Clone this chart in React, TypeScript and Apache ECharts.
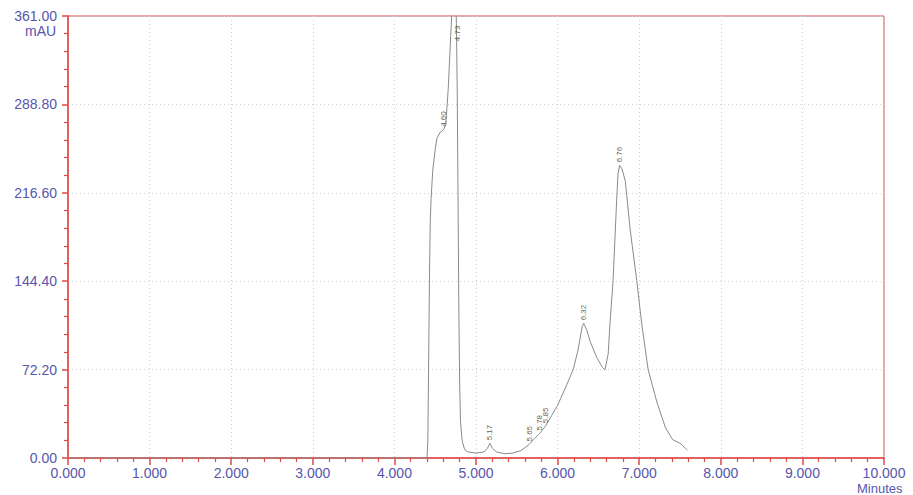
import React, { useEffect, useRef } from "react";
import * as echarts from "echarts";

// Chromatogram trace: [time (min), absorbance (mAU)]
const traceTimes = [0, 4.4, 4.41, 4.42, 4.43, 4.44, 4.45, 4.47, 4.5, 4.52, 4.56, 4.6, 4.63, 4.66, 4.69, 4.71, 4.73, 4.75, 4.76, 4.77, 4.78, 4.79, 4.8, 4.81, 4.83, 4.86, 4.9, 5.0, 5.1, 5.14, 5.17, 5.2, 5.25, 5.35, 5.45, 5.55, 5.65, 5.72, 5.78, 5.85, 5.93, 6.0, 6.1, 6.19, 6.25, 6.3, 6.32, 6.36, 6.4, 6.48, 6.55, 6.58, 6.62, 6.64, 6.68, 6.72, 6.74, 6.76, 6.79, 6.83, 6.89, 6.97, 7.03, 7.11, 7.22, 7.32, 7.41, 7.5, 7.55, 7.59];
const traceValues = [0, 0, 15, 80, 150, 195, 212, 235, 252, 261, 266, 268, 272, 302, 345, 372, 385, 378, 355, 300, 210, 120, 60, 30, 14, 7, 5, 4, 5, 8, 12, 8, 5, 3.5, 4, 6, 11, 16, 20, 26, 35, 43, 58, 72, 88, 107, 110, 104, 95, 82, 74, 72, 85, 108, 145, 205, 232, 239, 236, 226, 186, 145, 110, 72, 45, 25, 15, 12, 9, 6.5];

// Peak labels (retention time) and heights
const peakTimes = [4.6, 4.73, 5.17, 5.65, 5.78, 5.85, 6.32, 6.76];
const peakHeights = [268, 385, 12, 11, 20, 26, 110, 239];

const xTicks = ["0.000", "1.000", "2.000", "3.000", "4.000", "5.000", "6.000", "7.000", "8.000", "9.000", "10.000"];
const yTicks = ["0.00", "72.20", "144.40", "216.60", "288.80", "361.00"];

const Y_MAX = 361;

export default function App() {
  const ref = useRef<HTMLDivElement>(null);
  useEffect(() => {
    if (!ref.current) return;
    const chart = echarts.init(ref.current, undefined, { renderer: "svg" });
    const red = "#e04848";
    const blue = "#5656ac";
    const font = "Liberation Sans, Arial, sans-serif";
    const trace = traceTimes.map((t, i) => [t, traceValues[i]]);
    const labels = peakTimes.map((t, i) => ({
      value: [t + (peakHeights[i] > Y_MAX ? 0.04 : 0), Math.min(peakHeights[i], 338)],
      label: {
        formatter: t.toFixed(2),
      },
    }));
    chart.setOption({
      animation: false,
      grid: {
        left: 68,
        right: 29,
        top: 16,
        bottom: 37,
        show: true,
        borderColor: red,
        borderWidth: 1,
      },
      xAxis: {
        type: "value",
        min: 0,
        max: 10,
        interval: 1,
        axisLine: { lineStyle: { color: red, width: 1.5 } },
        axisTick: { length: 7, lineStyle: { color: red, width: 1.5 } },
        minorTick: { show: true, splitNumber: 5, length: 4, lineStyle: { color: red, width: 1.2 } },
        axisLabel: {
          color: blue,
          fontSize: 14,
          fontFamily: font,
          margin: 8,
          formatter: (v: number) => xTicks[Math.round(v)] ?? "",
        },
        splitLine: { show: true, lineStyle: { color: "#cfcfcf", type: [1, 3] } },
      },
      yAxis: {
        type: "value",
        min: 0,
        max: Y_MAX,
        interval: 72.2,
        axisLine: { show: true, lineStyle: { color: red, width: 1.5 } },
        axisTick: { show: true, length: 6, lineStyle: { color: red, width: 1.5 } },
        minorTick: { show: true, splitNumber: 5, length: 4, lineStyle: { color: red, width: 1.2 } },
        axisLabel: {
          color: blue,
          fontSize: 14,
          fontFamily: font,
          margin: 11,
          formatter: (v: number) => yTicks[Math.round(v / 72.2)] ?? "",
        },
        splitLine: { show: true, lineStyle: { color: "#cfcfcf", type: [1, 3] } },
      },
      graphic: [
        {
          type: "text",
          left: 25,
          top: 24,
          style: { text: "mAU", fill: blue, font: `14px ${font}` },
        },
        {
          type: "text",
          left: 857,
          top: 482,
          style: { text: "Minutes", fill: blue, font: `13px ${font}` },
        },
      ],
      series: [
        {
          type: "line",
          data: trace,
          showSymbol: false,
          symbol: "none",
          clip: true,
          lineStyle: { color: "#8a8a8a", width: 1 },
          z: 3,
        },
        {
          type: "scatter",
          data: labels,
          symbolSize: 0,
          silent: true,
          z: 4,
          itemStyle: { color: "#333" },
          label: {
            show: true,
            position: "top",
            distance: 3,
            rotate: 90,
            align: "left",
            verticalAlign: "middle",
            color: "#333333",
            textBorderWidth: 0,
            fontSize: 8,
            fontFamily: font,
          },
        },
      ],
    });
    return () => chart.dispose();
  }, []);
  return <div ref={ref} style={{ position: "fixed", left: 0, top: 0, width: 913, height: 495, background: "#fff" }} />;
}
